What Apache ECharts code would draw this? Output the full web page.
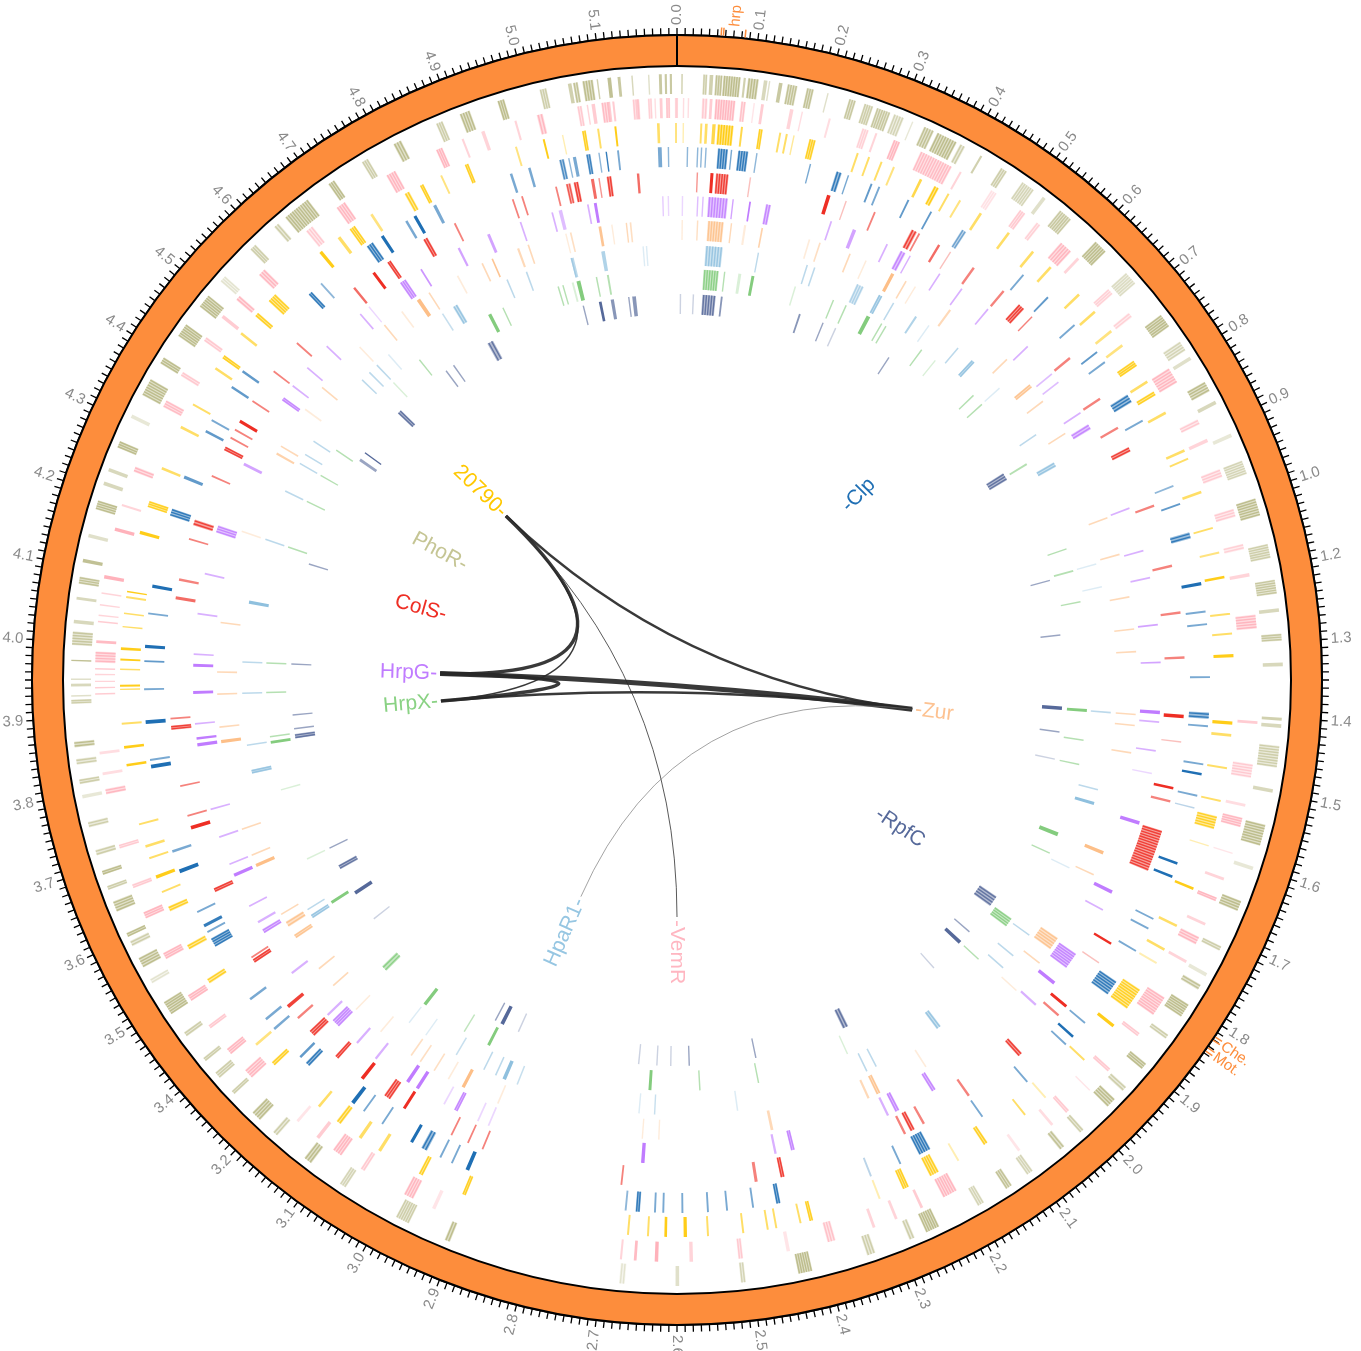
<!DOCTYPE html>
<html><head><meta charset="utf-8">
<script src="https://cdn.jsdelivr.net/npm/echarts@6/dist/echarts.min.js"></script>
<style>html,body{margin:0;padding:0;background:#fff}#c{width:1361px;height:1351px}</style>
</head><body><div id="c"></div>
<script>
// ---------- genome axis ----------
const GENOME_MB = 5.236;
const MAJOR = GENOME_MB / 50;
const TICK_LABELS = ['0.0','0.1','0.2','0.3','0.4','0.5','0.6','0.7','0.8','0.9','1.0','1.2','1.3','1.4','1.5','1.6','1.7','1.8','1.9','2.0','2.1','2.2','2.3','2.4','2.5','2.6','2.7','2.8','2.9','3.0','3.1','3.2','3.4','3.5','3.6','3.7','3.8','3.9','4.0','4.1','4.2','4.3','4.4','4.5','4.6','4.7','4.8','4.9','5.0','5.1'];

// ---------- cluster annotations (outside ring) ----------
const ANNOT_LABELS = ['hrp','Che.','Mot.'];
const ANNOT_POS = [0.074, 1.801, 1.818];
const ANNOT_TICKS = [0.057, 0.060, 0.088, 1.797, 1.802, 1.814, 1.819];

// ---------- regulators ----------
const REG_NAMES = ['PhoR','VemR','20790','Clp','ColS','HrpG','Zur','HpaR1','HrpX','RpfC'];
const REG_POS   = [4.340, 2.618, 4.564, 0.647, 4.155, 3.950, 1.412, 2.966, 3.853, 1.796];

// ---------- regulatory links ----------
const LINKS = [
  ['20790','HrpG',3.5],['20790','HrpX',1.5],['20790','Zur',2.5],['20790','VemR',1],
  ['HrpG','Zur',5],['HrpX','Zur',2.5],['HrpG','HrpX',3.5],['Zur','HpaR1',0.8]
];

// ---------- regulon gene tracks: [start Mb, end Mb, intensity] ----------
const PHOR = [[0.006,0.008,.6],[0.036,0.042,.6],[0.045,0.05,.6],[0.053,0.063,.8],[0.064,0.088,.9],[0.092,0.095,.6],[0.098,0.113,.9],[0.12,0.125,.5],[0.128,0.128,.4],[0.141,0.146,.7],[0.153,0.167,.8],[0.18,0.19,.8],[0.21,0.21,.4],[0.24,0.25,.7],[0.262,0.275,.6],[0.28,0.3,.7],[0.305,0.32,.5],[0.333,0.333,.3],[0.35,0.365,.8],[0.37,0.4,.9],[0.405,0.413,.6],[0.437,0.44,.6],[0.47,0.48,.6],[0.505,0.525,.5],[0.54,0.545,.4],[0.57,0.59,.7],[0.635,0.655,.9],[0.695,0.715,.4],[0.77,0.79,.9],[0.815,0.83,.5],[0.84,0.845,.4],[0.88,0.895,.9],[0.91,0.915,.5],[0.96,0.965,.3],[1.0,1.02,.5],[1.055,1.08,.9],[1.12,1.14,.6],[1.17,1.19,.7],[1.21,1.215,.5],[1.245,1.255,.7],[1.285,1.29,.5],[1.361,1.365,.6],[1.37,1.375,.5],[1.40,1.43,.6],[1.46,1.465,.5],[1.51,1.54,.9],[1.57,1.575,.3],[1.62,1.635,.9],[1.688,1.695,.6],[1.73,1.735,.3],[1.748,1.756,.8],[1.78,1.80,.9],[1.83,1.837,.6],[1.88,1.89,.9],[1.922,1.93,.6],[1.945,1.96,.9],[2.005,2.012,.6],[2.04,2.048,.8],[2.095,2.105,.5],[2.13,2.14,.8],[2.175,2.185,.5],[2.245,2.265,.9],[2.282,2.29,.6],[2.34,2.352,.6],[2.43,2.45,.9],[2.523,2.53,.5],[2.615,2.62,.4],[2.69,2.698,.3],[2.938,2.946,.9],[3.0,3.02,.6],[3.1,3.11,.5],[3.158,3.17,.9],[3.218,3.226,.6],[3.25,3.265,.9],[3.3,3.306,.6],[3.33,3.34,.6],[3.36,3.366,.6],[3.403,3.41,.6],[3.44,3.46,.9],[3.49,3.497,.3],[3.515,3.53,.9],[3.548,3.556,.6],[3.562,3.568,.9],[3.6,3.615,.9],[3.632,3.638,.6],[3.654,3.66,.9],[3.682,3.69,.6],[3.722,3.73,.6],[3.763,3.768,.3],[3.783,3.79,.6],[3.81,3.818,.6],[3.834,3.842,.9],[3.894,3.9,.6],[3.904,3.906,.4],[3.918,3.922,.5],[3.927,3.929,.4],[3.953,3.955,.8],[3.975,3.994,.7],[4.005,4.01,.5],[4.038,4.042,.5],[4.06,4.07,.8],[4.09,4.095,.8],[4.125,4.13,.4],[4.165,4.178,.9],[4.2,4.205,.5],[4.22,4.225,.5],[4.255,4.265,.9],[4.3,4.305,.3],[4.335,4.36,.9],[4.385,4.395,.9],[4.43,4.45,.9],[4.48,4.50,.9],[4.525,4.535,.3],[4.585,4.595,.6],[4.63,4.638,.6],[4.65,4.69,.9],[4.725,4.735,.9],[4.78,4.79,.6],[4.83,4.842,.9],[4.895,4.905,.6],[4.93,4.945,.9],[4.985,4.995,.9],[5.045,5.055,.6],[5.085,5.09,.6],[5.092,5.099,.8],[5.105,5.12,.9],[5.125,5.127,.6],[5.14,5.145,.8],[5.154,5.158,.7],[5.173,5.175,.5],[5.196,5.198,.4],[5.211,5.215,.7],[5.219,5.222,.7],[5.226,5.229,.7]];

const VEMR = [[5.092,5.099,.6],[5.106,5.108,.5],[5.113,5.118,.6],[5.127,5.138,.8],[5.143,5.146,.6],[5.172,5.182,.6],[5.194,5.2,.5],[5.204,5.205,.4],[5.211,5.215,.6],[5.22,5.226,.7],[5.233,5.236,.5],[0.0,0.001,.5],[0.009,0.01,.4],[0.016,0.017,.4],[0.036,0.044,.6],[0.047,0.051,.6],[0.055,0.084,.9],[0.092,0.099,.7],[0.11,0.112,.3],[0.121,0.125,.6],[0.163,0.168,.5],[0.18,0.182,.4],[0.22,0.223,.4],[0.27,0.28,.5],[0.29,0.293,.5],[0.318,0.328,.9],[0.36,0.41,.8],[0.423,0.426,.5],[0.475,0.485,.3],[0.525,0.535,.6],[0.555,0.562,.5],[0.6,0.62,.9],[0.632,0.636,.5],[0.695,0.705,.5],[0.74,0.748,.5],[0.838,0.862,.9],[0.922,0.93,.6],[0.953,0.958,.5],[1.0,1.012,.6],[1.06,1.072,.6],[1.112,1.12,.5],[1.155,1.16,.5],[1.215,1.235,.9],[1.368,1.372,.6],[1.43,1.45,.6],[1.488,1.492,.4],[1.508,1.522,.9],[1.56,1.562,.3],[1.598,1.602,.5],[1.628,1.634,.9],[1.668,1.672,.5],[1.69,1.702,.9],[1.728,1.732,.5],[1.79,1.82,.9],[1.852,1.858,.6],[1.918,1.924,.6],[1.96,1.962,.3],[2.002,2.008,.6],[2.032,2.036,.4],[2.092,2.096,.3],[2.2,2.222,.9],[2.254,2.258,.6],[2.294,2.298,.5],[2.328,2.332,.5],[2.388,2.4,.7],[2.455,2.46,.3],[2.523,2.53,.6],[2.595,2.6,.5],[2.645,2.65,.9],[2.676,2.68,.8],[2.697,2.7,.5],[2.975,2.98,.3],[3.01,3.025,.9],[3.09,3.097,.6],[3.13,3.145,.9],[3.17,3.175,.6],[3.208,3.212,.3],[3.3,3.315,.9],[3.345,3.355,.9],[3.392,3.398,.6],[3.44,3.45,.9],[3.51,3.52,.9],[3.575,3.585,.9],[3.622,3.628,.6],[3.682,3.688,.6],[3.762,3.77,.9],[3.79,3.794,.4],[3.82,3.824,.4],[3.906,3.908,.6],[3.915,3.917,.6],[3.924,3.926,.5],[3.934,3.936,.5],[3.942,3.944,.6],[3.952,3.968,.9],[3.98,3.984,.8],[4.01,4.012,.6],[4.019,4.021,.5],[4.034,4.036,.5],[4.051,4.053,.5],[4.073,4.078,.9],[4.143,4.148,.9],[4.18,4.183,.5],[4.232,4.24,.9],[4.334,4.345,.8],[4.385,4.392,.6],[4.445,4.452,.6],[4.487,4.492,.6],[4.52,4.528,.9],[4.568,4.58,.9],[4.66,4.672,.6],[4.715,4.73,.9],[4.8,4.815,.9],[4.88,4.89,.9],[4.92,4.923,.5],[4.95,4.955,.5],[5.0,5.003,.5],[5.033,5.042,.9],[5.137,5.14,.6],[5.178,5.18,.5]];

const G20790 = [[5.063,5.064,.3],[5.093,5.099,.9],[5.116,5.119,.6],[5.142,5.145,.9],[5.206,5.21,.6],[5.233,5.236,.5],[0.009,0.01,.3],[0.035,0.038,.6],[0.042,0.046,.6],[0.053,0.058,.7],[0.061,0.085,1],[0.096,0.099,.7],[0.123,0.129,.9],[0.154,0.157,.6],[0.164,0.167,.6],[0.176,0.177,.4],[0.2,0.21,.9],[0.274,0.277,.6],[0.292,0.295,.6],[0.312,0.315,.6],[0.332,0.335,.5],[0.376,0.38,.7],[0.4,0.408,1],[0.423,0.426,.6],[0.443,0.446,.5],[0.479,0.483,.6],[0.53,0.534,.6],[0.576,0.58,.6],[0.611,0.615,.6],[0.67,0.674,.6],[0.705,0.709,.6],[0.743,0.747,.5],[0.77,0.774,.5],[0.8,0.81,.9],[0.836,0.84,.6],[0.855,0.862,.9],[0.89,0.894,.6],[0.953,0.957,.6],[0.967,0.97,.6],[1.02,1.024,.6],[1.077,1.08,.6],[1.115,1.118,.5],[1.152,1.156,.9],[1.208,1.211,.6],[1.238,1.241,.6],[1.27,1.275,.9],[1.371,1.376,.9],[1.39,1.394,.6],[1.44,1.443,.6],[1.49,1.493,.6],[1.515,1.535,.9],[1.56,1.562,.3],[1.627,1.631,.9],[1.688,1.692,.6],[1.728,1.732,.6],[1.752,1.755,.3],[1.80,1.835,.9],[1.865,1.87,.9],[1.933,1.936,.6],[2.014,2.017,.3],[2.054,2.057,.6],[2.125,2.132,.9],[2.175,2.178,.3],[2.21,2.225,.9],[2.26,2.27,.9],[2.306,2.309,.3],[2.412,2.418,.9],[2.43,2.433,.6],[2.467,2.47,.6],[2.48,2.483,.6],[2.517,2.52,.6],[2.57,2.573,.6],[2.603,2.608,.9],[2.633,2.637,.9],[2.66,2.663,.6],[2.69,2.693,.6],[2.942,2.948,.9],[3.013,3.02,.9],[3.085,3.09,.6],[3.12,3.125,.6],[3.158,3.166,.9],[3.198,3.202,.6],[3.29,3.297,.9],[3.33,3.334,.5],[3.447,3.455,.9],[3.506,3.514,.9],[3.57,3.578,.9],[3.6,3.603,.6],[3.623,3.628,.9],[3.654,3.657,.6],[3.672,3.676,.6],[3.707,3.71,.6],[3.797,3.801,.9],[3.824,3.828,.9],[3.86,3.863,.6],[3.912,3.914,.6],[3.917,3.92,.9],[3.942,3.944,.6],[3.956,3.959,.9],[3.972,3.976,.9],[4.006,4.008,.6],[4.026,4.028,.6],[4.05,4.053,.6],[4.059,4.061,.9],[4.148,4.153,.9],[4.19,4.2,.9],[4.25,4.254,.6],[4.318,4.322,.6],[4.357,4.36,.6],[4.42,4.424,.6],[4.44,4.446,.9],[4.485,4.489,.6],[4.52,4.527,.9],[4.55,4.565,.9],[4.655,4.66,.9],[4.69,4.695,.6],[4.712,4.722,.9],[4.75,4.754,.5],[4.81,4.818,.9],[4.836,4.842,.9],[4.87,4.873,.5],[4.91,4.916,.9],[4.99,4.993,.5],[5.033,5.036,.9]];

const CLP = [[5.05,5.058,.8],[5.065,5.066,.5],[5.072,5.077,.6],[5.093,5.1,.9],[5.113,5.114,.5],[5.124,5.126,.9],[5.142,5.145,.6],[5.206,5.212,.6],[5.222,5.223,.5],[0.016,0.017,.5],[0.032,0.033,.5],[0.038,0.039,.5],[0.045,0.046,.5],[0.064,0.08,1],[0.085,0.086,.6],[0.096,0.112,1],[0.125,0.126,.5],[0.21,0.212,.6],[0.253,0.262,1],[0.272,0.274,.6],[0.31,0.313,.7],[0.323,0.326,.6],[0.373,0.376,.7],[0.413,0.416,.7],[0.47,0.478,.6],[0.588,0.591,.6],[0.64,0.643,.7],[0.70,0.703,.6],[0.755,0.758,.7],[0.775,0.778,.6],[0.838,0.852,1],[0.884,0.887,.6],[0.997,1.0,.5],[1.027,1.03,.7],[1.075,1.085,1],[1.155,1.16,1],[1.2,1.203,.6],[1.22,1.223,.6],[1.303,1.306,.6],[1.36,1.37,1],[1.38,1.383,.6],[1.44,1.443,.6],[1.455,1.459,1],[1.49,1.493,.6],[1.51,1.512,.3],[1.6,1.604,1],[1.622,1.626,1],[1.695,1.698,.6],[1.712,1.715,.6],[1.752,1.755,.6],[1.81,1.835,1],[1.89,1.893,.6],[1.918,1.922,1],[1.935,1.938,.6],[2.019,2.022,.6],[2.108,2.111,.6],[2.205,2.225,1],[2.256,2.259,.6],[2.306,2.309,.3],[2.455,2.462,1],[2.497,2.5,.6],[2.538,2.541,.6],[2.568,2.571,.6],[2.608,2.611,.6],[2.638,2.641,.6],[2.651,2.654,.6],[2.676,2.683,1],[2.697,2.7,.5],[2.952,2.958,1],[2.98,2.983,.6],[3.0,3.003,.6],[3.025,3.035,1],[3.05,3.055,1],[3.105,3.108,.6],[3.14,3.143,.6],[3.16,3.166,1],[3.252,3.26,1],[3.27,3.274,.7],[3.33,3.334,.6],[3.35,3.354,.6],[3.39,3.394,.6],[3.49,3.505,1],[3.515,3.518,.6],[3.525,3.53,.9],[3.55,3.553,.6],[3.618,3.624,1],[3.652,3.656,.6],[3.788,3.794,1],[3.8,3.803,.6],[3.858,3.864,1],[3.911,3.914,.6],[3.955,3.958,.7],[3.977,3.982,1],[4.03,4.033,.6],[4.072,4.077,1],[4.188,4.2,1],[4.25,4.255,.7],[4.33,4.334,.7],[4.35,4.353,.6],[4.41,4.414,.7],[4.44,4.444,.7],[4.6,4.607,1],[4.625,4.628,.5],[4.718,4.73,1],[4.745,4.75,1],[4.79,4.794,.6],[4.805,4.81,1],[4.84,4.845,.6],[4.97,4.974,.6],[5.0,5.004,.6]];

const COLS = [[5.052,5.06,.8],[5.065,5.073,1],[5.094,5.099,.7],[5.107,5.108,.5],[5.12,5.128,1],[5.17,5.174,.7],[0.033,0.034,.5],[0.055,0.06,1],[0.064,0.085,1],[0.12,0.122,.3],[0.25,0.256,1],[0.282,0.284,.3],[0.332,0.335,.6],[0.40,0.41,1],[0.413,0.416,.6],[0.45,0.454,.7],[0.473,0.475,.3],[0.518,0.522,.6],[0.58,0.584,.6],[0.615,0.627,1],[0.644,0.646,.6],[0.735,0.739,.6],[0.818,0.822,.6],[0.874,0.878,.6],[0.912,0.92,1],[1.015,1.019,.6],[1.118,1.122,.6],[1.196,1.2,.6],[1.27,1.274,.6],[1.366,1.372,1],[1.41,1.412,.3],[1.486,1.49,1],[1.508,1.512,.6],[1.56,1.63,1],[1.762,1.766,1],[1.80,1.802,.3],[1.888,1.893,1],[1.908,1.912,.6],[1.996,2.004,1],[2.106,2.11,.6],[2.193,2.197,.6],[2.212,2.22,1],[2.228,2.232,.6],[2.44,2.447,1],[2.485,2.49,.6],[2.708,2.711,.6],[2.944,2.947,.6],[2.97,2.973,.6],[3.0,3.003,.6],[3.088,3.093,1],[3.118,3.13,1],[3.172,3.178,1],[3.226,3.233,1],[3.28,3.292,1],[3.318,3.322,.6],[3.342,3.348,.9],[3.435,3.442,1],[3.444,3.447,.6],[3.568,3.575,1],[3.678,3.684,1],[3.7,3.703,.6],[3.75,3.753,.6],[3.845,3.852,1],[3.862,3.865,.6],[4.06,4.065,.7],[4.091,4.095,.6],[4.16,4.163,.6],[4.185,4.195,1],[4.27,4.273,.6],[4.318,4.325,1],[4.34,4.343,.6],[4.355,4.358,.6],[4.37,4.375,1],[4.41,4.413,.6],[4.47,4.473,.6],[4.53,4.533,.6],[4.66,4.664,.7],[4.7,4.705,1],[4.73,4.737,1],[4.8,4.808,1],[4.857,4.86,.6],[4.96,4.963,.6],[4.976,4.979,.6],[5.034,5.037,.6]];

const HRPG = [[5.03,5.036,.5],[5.092,5.097,1],[5.211,5.212,.4],[0.009,0.01,.3],[0.035,0.037,.5],[0.044,0.046,.5],[0.054,0.088,1],[0.096,0.098,.7],[0.125,0.128,1],[0.154,0.163,1],[0.269,0.272,.6],[0.31,0.316,.7],[0.373,0.376,.6],[0.40,0.41,1],[0.418,0.42,.6],[0.477,0.48,.6],[0.523,0.526,.6],[0.58,0.583,.6],[0.674,0.677,.6],[0.737,0.74,.5],[0.755,0.758,.5],[0.82,0.823,.6],[0.845,0.855,1],[1.005,1.008,.6],[1.082,1.085,.6],[1.13,1.133,.6],[1.212,1.215,.7],[1.277,1.28,.7],[1.362,1.368,1],[1.38,1.383,.6],[1.43,1.433,.6],[1.47,1.472,.3],[1.556,1.562,1],[1.684,1.69,1],[1.72,1.723,.6],[1.81,1.84,1],[1.87,1.876,1],[1.92,1.924,.6],[2.148,2.156,1],[2.22,2.228,1],[2.24,2.244,.6],[2.413,2.42,1],[2.445,2.449,.6],[2.674,2.68,1],[2.95,2.953,.3],[2.97,2.973,.3],[3.01,3.017,1],[3.035,3.038,.3],[3.087,3.093,1],[3.107,3.113,1],[3.176,3.18,.6],[3.218,3.222,.6],[3.262,3.278,1],[3.288,3.292,.6],[3.383,3.387,.6],[3.468,3.476,1],[3.488,3.492,.6],[3.52,3.523,.6],[3.578,3.584,1],[3.6,3.603,.6],[3.65,3.653,.6],[3.7,3.703,.6],[3.812,3.818,1],[3.824,3.828,1],[3.85,3.853,.6],[3.903,3.908,1],[3.95,3.955,1],[3.97,3.973,.6],[4.04,4.043,.6],[4.11,4.113,.6],[4.185,4.198,1],[4.31,4.315,.7],[4.44,4.447,1],[4.47,4.473,.6],[4.51,4.513,.6],[4.56,4.563,.6],[4.64,4.643,.6],[4.66,4.662,.3],[4.728,4.74,1],[4.77,4.773,.8],[4.844,4.848,.7],[4.9,4.905,.7],[4.96,4.963,.6],[5.017,5.02,.6],[5.08,5.083,.6],[5.22,5.222,.3]];

const ZUR = [[5.032,5.033,.3],[5.093,5.098,.9],[5.117,5.118,.3],[5.143,5.145,.6],[0.009,0.01,.3],[0.037,0.038,.5],[0.056,0.085,1],[0.098,0.1,.6],[0.122,0.126,.3],[0.154,0.157,.7],[0.242,0.245,.3],[0.262,0.265,.5],[0.32,0.323,.6],[0.352,0.354,.3],[0.404,0.41,1],[0.433,0.436,.6],[0.453,0.455,.3],[0.528,0.532,.6],[0.665,0.668,.6],[0.727,0.735,1],[0.765,0.768,.6],[0.836,0.839,.6],[1.007,1.01,.6],[1.077,1.08,.6],[1.156,1.159,.6],[1.215,1.218,.6],[1.256,1.259,.6],[1.37,1.373,.6],[1.39,1.393,.6],[1.44,1.443,.6],[1.627,1.633,1],[1.672,1.675,.6],[1.805,1.83,1],[1.86,1.863,.6],[1.925,1.928,.3],[2.14,2.143,.3],[2.236,2.244,1],[2.258,2.262,.6],[2.442,2.447,.6],[2.65,2.652,.3],[2.68,2.682,.3],[2.95,2.953,.3],[3.018,3.024,1],[3.05,3.053,.3],[3.08,3.083,.5],[3.11,3.113,.5],[3.13,3.133,.5],[3.2,3.203,.3],[3.26,3.263,.3],[3.32,3.323,.6],[3.36,3.363,.6],[3.43,3.438,1],[3.455,3.466,1],[3.48,3.483,.6],[3.578,3.584,1],[3.6,3.603,.6],[3.65,3.653,.6],[3.812,3.818,1],[3.84,3.843,.6],[3.9,3.903,.6],[3.94,3.943,.6],[4.03,4.033,.6],[4.2,4.203,.3],[4.354,4.358,.7],[4.37,4.373,.6],[4.45,4.453,.3],[4.5,4.503,.6],[4.6,4.603,.3],[4.66,4.663,.6],[4.7,4.703,.3],[4.735,4.742,1],[4.76,4.763,.6],[4.82,4.823,.3],[4.87,4.873,.6],[4.89,4.893,.9],[4.94,4.944,.6],[4.96,4.963,.6],[5.04,5.043,.5],[5.15,5.153,.5]];

const HPAR1 = [[5.03,5.036,.6],[5.09,5.097,.7],[5.177,5.178,.3],[0.055,0.088,1],[0.156,0.158,.6],[0.252,0.255,.6],[0.267,0.27,.6],[0.355,0.37,.7],[0.402,0.41,1],[0.433,0.436,.6],[0.483,0.487,.7],[0.514,0.516,.3],[0.584,0.587,.6],[0.62,0.628,1],[0.695,0.697,.3],[0.808,0.811,.6],[0.872,0.882,1],[1.083,1.085,.3],[1.128,1.13,.3],[1.37,1.373,.6],[1.52,1.523,.6],[1.546,1.552,1],[1.68,1.682,.3],[1.83,1.833,.6],[1.88,1.883,.6],[1.91,1.913,.6],[2.075,2.085,1],[2.22,2.223,.6],[2.24,2.243,.6],[2.5,2.503,.3],[2.66,2.662,.5],[2.69,2.692,.3],[2.93,2.933,.5],[2.955,2.962,1],[2.975,2.978,.6],[3.0,3.003,.6],[3.06,3.063,.5],[3.13,3.132,.3],[3.17,3.172,.3],[3.444,3.452,1],[3.462,3.465,.6],[3.746,3.754,1],[3.8,3.803,.6],[3.9,3.903,.6],[3.96,3.963,.6],[4.074,4.08,1],[4.2,4.203,.6],[4.3,4.303,.6],[4.36,4.363,.6],[4.38,4.383,.6],[4.41,4.413,.6],[4.56,4.563,.6],[4.58,4.583,.6],[4.6,4.603,.6],[4.63,4.633,.3],[4.76,4.763,.5],[4.785,4.795,1],[4.9,4.903,.6],[4.94,4.943,.6],[5.03,5.033,.6],[5.17,5.172,.3]];

const HRPX = [[5.02,5.024,.3],[5.03,5.038,1],[5.093,5.097,.6],[0.054,0.085,1],[0.096,0.098,.6],[0.125,0.131,.3],[0.152,0.158,1],[0.242,0.245,.3],[0.324,0.327,.6],[0.352,0.355,.6],[0.4,0.408,1],[0.433,0.436,.6],[0.443,0.446,.6],[0.53,0.533,.6],[0.565,0.568,.3],[0.67,0.673,.6],[0.695,0.698,.6],[0.846,0.85,.6],[1.037,1.04,.6],[1.083,1.087,.6],[1.148,1.151,.6],[1.368,1.374,1],[1.43,1.433,.6],[1.48,1.483,.6],[1.626,1.634,1],[1.67,1.673,.6],[1.825,1.845,1],[1.93,1.933,.6],[2.26,2.263,.3],[2.45,2.453,.6],[2.57,2.573,.6],[2.67,2.676,1],[3.012,3.018,1],[3.07,3.073,.5],[3.165,3.172,1],[3.272,3.285,1],[3.447,3.453,1],[3.55,3.553,.3],[3.7,3.703,.3],[3.797,3.803,1],[3.81,3.813,.6],[3.9,3.903,.6],[3.96,3.963,.6],[4.2,4.203,.6],[4.3,4.303,.6],[4.36,4.363,.6],[4.42,4.423,.6],[4.6,4.603,.3],[4.67,4.673,.6],[4.838,4.845,1],[4.87,4.873,.6],[4.99,4.993,.6],[5.0,5.003,.6],[5.07,5.073,.6]];

const RPFC = [[5.066,5.072,1],[5.092,5.099,.7],[5.139,5.147,.7],[0.007,0.008,.3],[0.035,0.036,.3],[0.055,0.084,1],[0.095,0.099,.7],[0.268,0.272,.7],[0.322,0.325,.6],[0.352,0.354,.3],[0.483,0.486,.6],[0.838,0.855,1],[1.09,1.093,.6],[1.21,1.213,.6],[1.366,1.374,1],[1.42,1.423,.6],[1.48,1.482,.3],[1.805,1.83,1],[1.9,1.903,.6],[1.928,1.936,1],[2.01,2.012,.3],[2.235,2.248,1],[2.445,2.448,.6],[2.59,2.593,.6],[2.63,2.633,.3],[2.66,2.663,.3],[2.7,2.702,.3],[2.97,2.972,.3],[3.006,3.014,1],[3.025,3.028,.6],[3.37,3.372,.3],[3.436,3.444,1],[3.5,3.51,1],[3.55,3.553,.6],[3.8,3.81,1],[3.82,3.823,.6],[3.85,3.853,.6],[3.96,3.963,.6],[4.18,4.183,.6],[4.43,4.436,.6],[4.45,4.453,1],[4.562,4.572,1],[4.7,4.703,.6],[4.72,4.723,.6],[4.808,4.822,1],[5.03,5.033,.6],[5.13,5.133,.6]];

const TRACK_DATA = [PHOR, VEMR, G20790, CLP, COLS, HRPG, ZUR, HPAR1, HRPX, RPFC];

// ---------- styles ----------
const TRACK_COLORS = ['#b2b27a','#ffaab4','#ffc800','#1f6fb4','#ee2e24','#c07cff','#fdbf88','#8fc0de','#84cc7e','#56699a'];
const LABEL_COLORS = ['#c5c594','#ffb6c1','#ffc800','#1f6fb4','#ee2e24','#c07cff','#fdc291','#96c6e2','#8ad284','#56699a'];
const TRACK_OUTER = [606, 582, 557, 533, 508, 484, 460, 435, 411, 386];
const TRACK_H = 20;
const RING_IN = 614, RING_OUT = 645, LINK_R = 237, REG_LABEL_R = 240;
const ORANGE = '#fd8d3c';
const FONT = 'Liberation Sans, Arial, Helvetica, sans-serif';
const LINE_PX = 1.4;      // width of a single gene stroke
const STRIPE_PX = 2.6;    // spacing of gene strokes drawn inside a block

const chart = echarts.init(document.getElementById('c'), null, {renderer: 'canvas'});

function ang(cs, p) { return Math.atan2(p[1] - cs.cy, p[0] - cs.cx); }

function radialText(api, value, r, text, color, size) {
  const p = api.coord([r, value]);
  const theta = value / GENOME_MB * 360;
  const right = theta <= 180.0001;
  const phi = right ? theta - 90 : theta + 90;
  return {
    type: 'text', x: p[0], y: p[1], rotation: -phi * Math.PI / 180,
    style: { text: text, fill: color, font: size + 'px ' + FONT,
      textAlign: right ? 'left' : 'right', textVerticalAlign: 'middle' }
  };
}

const trackItems = [];
TRACK_DATA.forEach((arr, ti) => arr.forEach(d => trackItems.push([d[0], d[1], d[2], ti])));

const tickItems = TICK_LABELS.map((t, k) => [k * MAJOR, k]);
const regItems = REG_NAMES.map((n, i) => [REG_POS[i], i]);
const linkItems = LINKS.map(l => [REG_POS[REG_NAMES.indexOf(l[0])], REG_POS[REG_NAMES.indexOf(l[1])], l[2]]);
const annotItems = ANNOT_LABELS.map((n, i) => [ANNOT_POS[i], i]);
const annotTickItems = ANNOT_TICKS.map(v => [v]);

const option = {
  backgroundColor: '#ffffff',
  animation: false,
  polar: { center: [677, 680], radius: [0, RING_OUT] },
  angleAxis: {
    type: 'value', min: 0, max: GENOME_MB, interval: MAJOR, startAngle: 90, clockwise: true,
    axisLine: { show: true, lineStyle: { color: '#000', width: 2 } },
    axisTick: { show: true, length: 7, lineStyle: { color: '#000', width: 1.3 } },
    minorTick: { show: true, splitNumber: 10, length: 7, lineStyle: { color: '#000', width: 1.3 } },
    axisLabel: { show: false }, splitLine: { show: false }, minorSplitLine: { show: false }
  },
  radiusAxis: { type: 'value', min: 0, max: RING_OUT, show: false },
  series: [
    { // regulon gene tracks
      type: 'custom', coordinateSystem: 'polar', silent: true, z: 2,
      data: trackItems,
      encode: { angle: 0, radius: 2 },
      renderItem: function (params, api) {
        const cs = params.coordSys;
        const s = api.value(0), e = api.value(1), a = api.value(2), ti = api.value(3);
        const r1 = TRACK_OUTER[ti], r0 = r1 - TRACK_H;
        let a1 = ang(cs, api.coord([r1, s]));
        let a2 = ang(cs, api.coord([r1, e]));
        if (a2 < a1 - 1e-9) a2 += 2 * Math.PI;
        const rm = (r0 + r1) / 2, minA = LINE_PX / rm;
        const color = TRACK_COLORS[ti];
        const widthPx = (a2 - a1) * rm;
        if (widthPx < STRIPE_PX * 1.5) {
          if (a2 - a1 < minA) { const m = (a1 + a2) / 2; a1 = m - minA / 2; a2 = m + minA / 2; }
          return { type: 'sector', shape: { cx: cs.cx, cy: cs.cy, r0: r0, r: r1, startAngle: a1, endAngle: a2, clockwise: true },
            style: { fill: color, opacity: a } };
        }
        // a block of adjacent genes: pale band with individual gene strokes
        const children = [{ type: 'sector', shape: { cx: cs.cx, cy: cs.cy, r0: r0, r: r1, startAngle: a1, endAngle: a2, clockwise: true },
          style: { fill: color, opacity: a * 0.45 } }];
        const n = Math.max(2, Math.round(widthPx / STRIPE_PX));
        const step = (a2 - a1) / n;
        for (let k = 0; k < n; k++) {
          const m = a1 + (k + 0.5) * step;
          children.push({ type: 'sector', shape: { cx: cs.cx, cy: cs.cy, r0: r0, r: r1, startAngle: m - minA / 2, endAngle: m + minA / 2, clockwise: true },
            style: { fill: color, opacity: a * 0.85 } });
        }
        return { type: 'group', children: children };
      }
    },
    { // orange chromosome ring
      type: 'custom', coordinateSystem: 'polar', silent: true, z: 3,
      data: [[0, 0]],
      renderItem: function (params, api) {
        const cs = params.coordSys;
        const pin = api.coord([RING_IN, 0]), pout = api.coord([RING_OUT, 0]);
        return { type: 'group', children: [
          { type: 'sector', shape: { cx: cs.cx, cy: cs.cy, r0: RING_IN, r: RING_OUT, startAngle: 0, endAngle: Math.PI * 2 },
            style: { fill: ORANGE } },
          { type: 'circle', shape: { cx: cs.cx, cy: cs.cy, r: RING_IN }, style: { fill: null, stroke: '#000', lineWidth: 2 } },
          { type: 'circle', shape: { cx: cs.cx, cy: cs.cy, r: RING_OUT }, style: { fill: null, stroke: '#000', lineWidth: 2 } },
          { type: 'line', shape: { x1: pin[0], y1: pin[1], x2: pout[0], y2: pout[1] }, style: { stroke: '#000', lineWidth: 2 } }
        ] };
      }
    },
    { // tick labels
      type: 'custom', coordinateSystem: 'polar', silent: true, z: 4,
      data: tickItems,
      renderItem: function (params, api) {
        return radialText(api, api.value(0), 655, TICK_LABELS[params.dataIndex], '#8a8a8a', 15);
      }
    },
    { // cluster annotation ticks
      type: 'custom', coordinateSystem: 'polar', silent: true, z: 4,
      data: annotTickItems,
      renderItem: function (params, api) {
        const v = api.value(0);
        const p1 = api.coord([RING_OUT + 1, v]), p2 = api.coord([RING_OUT + 9, v]);
        return { type: 'line', shape: { x1: p1[0], y1: p1[1], x2: p2[0], y2: p2[1] }, style: { stroke: ORANGE, lineWidth: 1.5 } };
      }
    },
    { // cluster annotation labels
      type: 'custom', coordinateSystem: 'polar', silent: true, z: 4,
      data: annotItems,
      renderItem: function (params, api) {
        return radialText(api, api.value(0), 656, ANNOT_LABELS[params.dataIndex], ORANGE, 15);
      }
    },
    { // regulatory links
      type: 'custom', coordinateSystem: 'polar', silent: true, z: 5,
      data: linkItems,
      renderItem: function (params, api) {
        const cs = params.coordSys;
        const p1 = api.coord([LINK_R, api.value(0)]), p2 = api.coord([LINK_R, api.value(1)]);
        const w = api.value(2);
        const col = w >= 1.5 ? 'rgba(40,40,40,0.92)' : (w >= 1 ? 'rgba(60,60,60,0.85)' : 'rgba(110,110,110,0.8)');
        return { type: 'bezierCurve', shape: { x1: p1[0], y1: p1[1], x2: p2[0], y2: p2[1], cpx1: cs.cx, cpy1: cs.cy },
          style: { stroke: col, lineWidth: w, fill: null } };
      }
    },
    { // regulator labels
      type: 'custom', coordinateSystem: 'polar', silent: true, z: 6,
      data: regItems,
      renderItem: function (params, api) {
        const i = params.dataIndex, v = api.value(0);
        const theta = v / GENOME_MB * 360;
        const txt = theta <= 180 ? '-' + REG_NAMES[i] : REG_NAMES[i] + '-';
        return radialText(api, v, REG_LABEL_R, txt, LABEL_COLORS[i], 21);
      }
    }
  ]
};
chart.setOption(option);
</script></body></html>
